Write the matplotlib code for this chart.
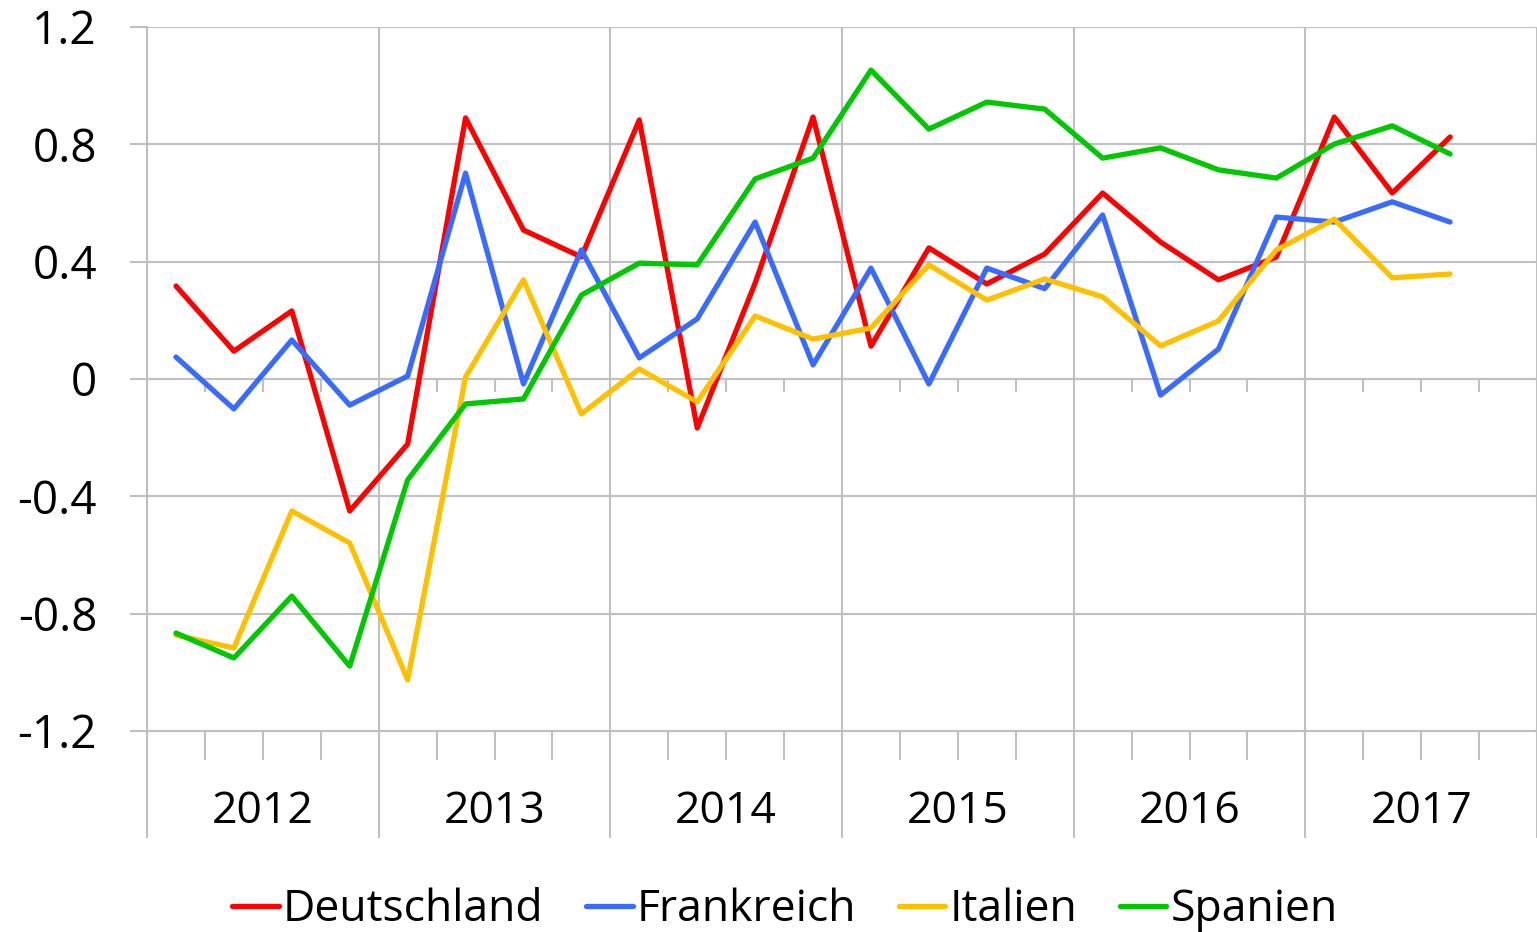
import matplotlib.pyplot as plt
import matplotlib.transforms as mtransforms
import numpy as np

plt.rcParams['font.family'] = ['Open Sans', 'DejaVu Sans']

# quarterly values, 2012 Q1 .. 2017 Q3
years = ["2012", "2013", "2014", "2015", "2016", "2017"]
deutschland = [0.317, 0.095, 0.232, -0.450, -0.222, 0.890, 0.508, 0.416,
               0.883, -0.167, 0.327, 0.893, 0.112, 0.447, 0.324, 0.426,
               0.634, 0.467, 0.338, 0.416, 0.893, 0.634, 0.825]
frankreich = [0.075, -0.102, 0.133, -0.089, 0.010, 0.702, -0.017, 0.440,
              0.072, 0.205, 0.535, 0.048, 0.378, -0.017, 0.378, 0.308,
              0.559, -0.055, 0.102, 0.552, 0.535, 0.604, 0.535]
italien = [-0.873, -0.917, -0.450, -0.559, -1.026, 0.007, 0.338, -0.119,
           0.034, -0.078, 0.215, 0.136, 0.174, 0.389, 0.269, 0.341,
           0.280, 0.113, 0.198, 0.440, 0.545, 0.345, 0.358]
spanien = [-0.866, -0.951, -0.740, -0.979, -0.344, -0.085, -0.068, 0.286,
           0.395, 0.389, 0.682, 0.753, 1.053, 0.852, 0.944, 0.920,
           0.753, 0.788, 0.713, 0.685, 0.801, 0.863, 0.767]

series = [
    ("Deutschland", deutschland, "#FF0000"),
    ("Frankreich", frankreich, "#3A6BFF"),
    ("Italien", italien, "#FFC000"),
    ("Spanien", spanien, "#00C800"),
]

grid_c = "#C0C0C0"
fig = plt.figure(figsize=(15.37, 9.32), dpi=100)
ax = fig.add_axes([147 / 1537, 201 / 932, 1390 / 1537, 704 / 932])

x = np.arange(len(deutschland)) + 0.5
for name, vals, col in series:
    ax.plot(x, vals, color=col, lw=3.8, label=name,
            solid_joinstyle="round", solid_capstyle="round", zorder=3)

# 2017 Q4 is an empty slot; the chart is cut at the right edge
ax.set_xlim(0, 1390 / 58.55)
ax.set_ylim(-1.2, 1.2)
ax.set_yticks([-1.2, -0.8, -0.4, 0, 0.4, 0.8, 1.2])
ax.set_yticklabels(["-1.2", "-0.8", "-0.4", "0", "0.4", "0.8", "1.2"])
ax.yaxis.grid(True, color=grid_c, lw=1.5)
ax.tick_params(axis="y", length=12, width=1.5, color=grid_c, pad=24,
               labelsize=33)

for s in ["top", "right"]:
    ax.spines[s].set_visible(False)
for s in ["left", "bottom"]:
    ax.spines[s].set_color(grid_c)
    ax.spines[s].set_linewidth(1.5)

# year boundaries (major) and quarter ticks (minor)
year_edges = np.arange(0, 25, 4)
quarter_edges = [q for q in range(25) if q % 4]
ax.set_xticks(year_edges)
ax.set_xticks(quarter_edges, minor=True)
ax.set_xticklabels([])
ax.tick_params(axis="x", which="major", length=77, width=1.5, color=grid_c)
ax.tick_params(axis="x", which="minor", length=21, width=1.5, color=grid_c)
ax.xaxis.grid(True, which="major", color=grid_c, lw=1.5)

# small quarter ticks on the zero line
ax.axhline(0, color=grid_c, lw=1.5, zorder=1)
ax.vlines(quarter_edges, -0.044, 0, color=grid_c, lw=1.5, zorder=1)

trans = mtransforms.blended_transform_factory(ax.transData, ax.transAxes)
for i, yr in enumerate(years):
    ax.text(i * 4 + 2, -0.115, yr, transform=trans, ha="center", va="center",
            fontsize=32)

fig.legend(loc="center", bbox_to_anchor=(785 / 1537, 1 - 910 / 932), ncol=4,
           frameon=False, fontsize=32, handlelength=1.05, handletextpad=0.1,
           columnspacing=0.95)

fig.savefig("out.png", dpi=100)
